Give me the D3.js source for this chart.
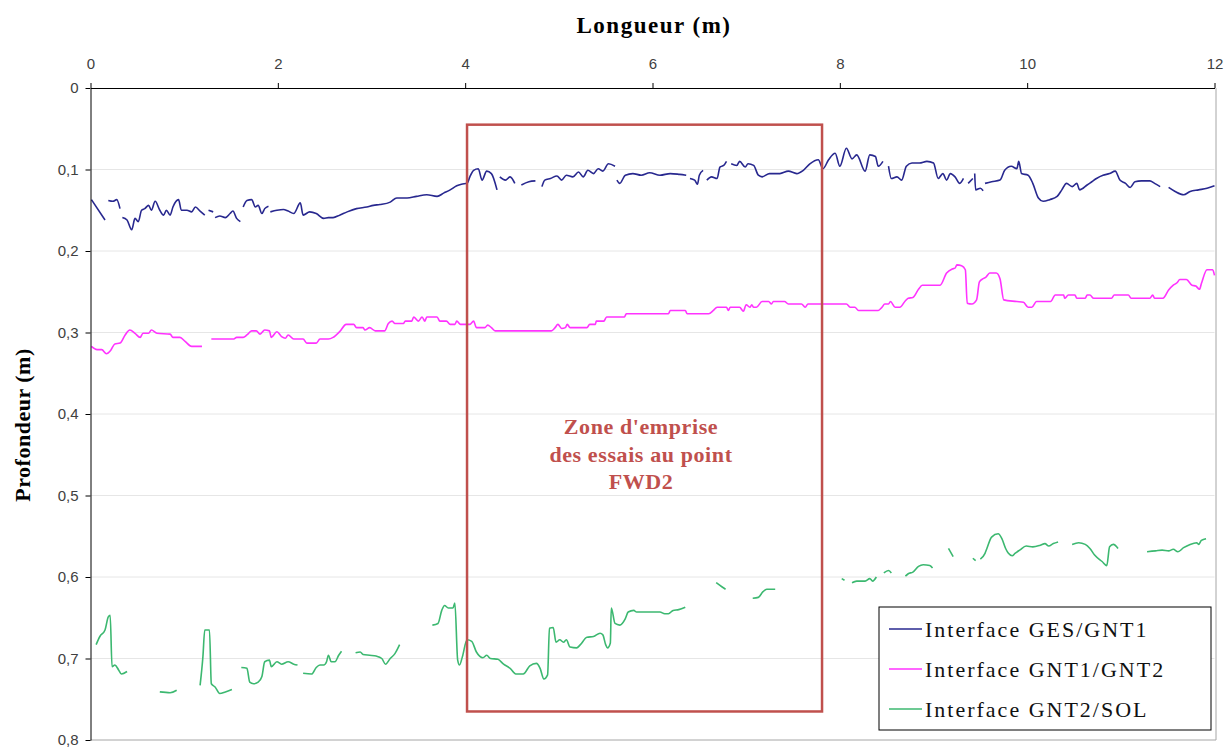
<!DOCTYPE html>
<html>
<head>
<meta charset="utf-8">
<script src="https://cdn.jsdelivr.net/npm/d3@7"></script>
<style>
  body { margin: 0; background: #fff; }
  svg { display: block; }
  .tick text { font-family: "Liberation Sans", Arial, sans-serif; font-size: 15px; fill: #404040; }
</style>
</head>
<body>
<svg id="chart" width="1229" height="749"></svg>
<script>
// depth profiles, [longueur (m), profondeur (m)], null = gap in the record
var gesGnt1 = [
  [0.01,0.137],[0.155,0.162], null,
  [0.19,0.138],[0.24,0.139],[0.28,0.137],[0.315,0.148], null,
  [0.34,0.159],[0.39,0.162],[0.44,0.174],[0.475,0.160],[0.51,0.164],[0.545,0.150],[0.58,0.148],[0.62,0.144],
  [0.65,0.150],[0.69,0.139],[0.74,0.150],[0.78,0.156],[0.81,0.150],[0.85,0.156],[0.88,0.146],[0.94,0.137],
  [0.97,0.150],[1.03,0.150],[1.08,0.152],[1.12,0.146],[1.17,0.151],[1.22,0.156], null,
  [1.26,0.150],[1.31,0.152], null,
  [1.33,0.159],[1.38,0.157],[1.44,0.159],[1.49,0.154],[1.52,0.151],[1.56,0.160],[1.60,0.164], null,
  [1.63,0.146],[1.67,0.138],[1.72,0.137],[1.76,0.146],[1.79,0.144],[1.83,0.154],[1.86,0.148],[1.90,0.145], null,
  [1.92,0.152],[1.99,0.150],[2.06,0.149],[2.11,0.151],[2.17,0.154],[2.24,0.141],[2.27,0.156],[2.34,0.152],
  [2.41,0.154],[2.49,0.160],[2.54,0.159],[2.59,0.159],[2.66,0.156],[2.74,0.152],[2.84,0.148],[2.95,0.146],
  [3.02,0.144],[3.09,0.143],[3.20,0.140],[3.27,0.135],[3.38,0.135],[3.48,0.133],[3.59,0.131],[3.70,0.133],
  [3.77,0.129],[3.84,0.125],[3.91,0.120],[3.96,0.118],[4.02,0.117],[4.05,0.109],[4.09,0.101],[4.14,0.099],
  [4.18,0.113],[4.23,0.102],[4.28,0.105],[4.34,0.125], null,
  [4.37,0.109],[4.43,0.113],[4.48,0.109],[4.53,0.117], null,
  [4.60,0.119],[4.68,0.115],[4.75,0.114], null,
  [4.82,0.121],[4.85,0.113],[4.91,0.111],[4.98,0.108],[5.03,0.113],[5.08,0.107],[5.15,0.109],[5.21,0.103],
  [5.26,0.109],[5.31,0.101],[5.37,0.105],[5.42,0.099],[5.47,0.102],[5.53,0.093],[5.60,0.096], null,
  [5.62,0.113],[5.65,0.117],[5.71,0.107],[5.79,0.105],[5.88,0.107],[5.97,0.104],[6.08,0.107],[6.19,0.105],
  [6.29,0.106],[6.36,0.107], null,
  [6.40,0.111],[6.45,0.113],[6.48,0.118],[6.50,0.107],[6.54,0.101], null,
  [6.58,0.113],[6.63,0.109],[6.69,0.111],[6.72,0.097],[6.76,0.095],[6.79,0.090], null,
  [6.84,0.093],[6.90,0.095],[6.93,0.090],[6.99,0.097],[7.02,0.093],[7.08,0.095],[7.13,0.107],[7.17,0.109],
  [7.25,0.105],[7.36,0.105],[7.45,0.102],[7.54,0.105],[7.61,0.101],[7.68,0.093],[7.77,0.088],[7.82,0.099],
  [7.88,0.088],[7.95,0.080],[8.00,0.096],[8.07,0.074],[8.13,0.087],[8.18,0.082],[8.27,0.102],[8.32,0.082],
  [8.38,0.084],[8.41,0.096],[8.46,0.090], null,
  [8.52,0.096],[8.55,0.111],[8.61,0.109],[8.66,0.113],[8.71,0.096],[8.77,0.092],[8.85,0.092],[8.93,0.090],
  [9.00,0.092],[9.05,0.111],[9.10,0.105],[9.14,0.113],[9.18,0.105],[9.23,0.109],[9.28,0.117],[9.32,0.111], null,
  [9.37,0.117],[9.42,0.111], null,
  [9.44,0.105],[9.45,0.125],[9.50,0.123],[9.53,0.126], null,
  [9.55,0.117],[9.62,0.115],[9.71,0.113],[9.76,0.101],[9.83,0.096],[9.89,0.099],[9.91,0.090],[9.94,0.105],
  [10.01,0.107],[10.06,0.117],[10.12,0.135],[10.17,0.139],[10.24,0.137],[10.32,0.133],[10.37,0.125],[10.42,0.117],
  [10.48,0.121],[10.53,0.117],[10.56,0.125],[10.64,0.119],[10.69,0.115],[10.74,0.111],[10.81,0.107],[10.88,0.105],
  [10.94,0.102],[10.99,0.113],[11.05,0.117],[11.10,0.122],[11.15,0.115],[11.22,0.114],[11.31,0.114],[11.36,0.117],
  [11.42,0.121], null,
  [11.51,0.122],[11.58,0.127],[11.67,0.131],[11.74,0.127],[11.83,0.125],[11.92,0.123],[12.0,0.120]
];

var gnt1Gnt2 = [
  [0.01,0.317],[0.07,0.321],[0.12,0.321],[0.17,0.326],[0.215,0.322],[0.26,0.314],[0.315,0.313],[0.37,0.303],
  [0.42,0.297],[0.475,0.301],[0.53,0.306],[0.56,0.301],[0.62,0.301],[0.65,0.297],[0.71,0.301],[0.85,0.302],
  [0.88,0.306],[0.955,0.306],[1.01,0.311],[1.08,0.317],[1.19,0.317], null,
  [1.29,0.308],[1.53,0.308],[1.56,0.306],[1.63,0.306],[1.67,0.303],[1.72,0.298],[1.77,0.298],[1.81,0.302],
  [1.86,0.297],[1.91,0.298],[1.93,0.306],[1.99,0.299],[2.04,0.305],[2.08,0.307],[2.11,0.303],[2.17,0.308],
  [2.27,0.308],[2.31,0.313],[2.41,0.313],[2.45,0.308],[2.54,0.308],[2.59,0.306],[2.66,0.299],[2.73,0.290],
  [2.81,0.290],[2.84,0.294],[2.91,0.294],[2.93,0.297],[2.98,0.294],[3.04,0.298],[3.14,0.298],[3.18,0.289],
  [3.22,0.286],[3.25,0.289],[3.34,0.289],[3.36,0.286],[3.43,0.286],[3.45,0.281],[3.50,0.286],[3.54,0.281],
  [3.57,0.286],[3.59,0.281],[3.70,0.281],[3.73,0.286],[3.80,0.286],[3.84,0.290],[3.89,0.290],[3.91,0.286],
  [3.95,0.290],[4.05,0.290],[4.09,0.286],[4.12,0.294],[4.21,0.294],[4.24,0.291],[4.28,0.294],[4.32,0.298],
  [4.92,0.298],[4.96,0.294],[4.99,0.290],[5.03,0.295],[5.07,0.294],[5.09,0.290],[5.12,0.294],[5.30,0.294],
  [5.33,0.290],[5.39,0.290],[5.40,0.286],[5.48,0.286],[5.51,0.281],[5.70,0.281],[5.72,0.277],[6.17,0.277],
  [6.19,0.273],[6.35,0.273],[6.37,0.277],[6.60,0.277],[6.65,0.273],[6.69,0.269],[6.79,0.269],[6.81,0.273],
  [6.83,0.269],[6.93,0.269],[6.97,0.274],[7.00,0.266],[7.04,0.269],[7.06,0.266],[7.08,0.269],[7.11,0.269],
  [7.17,0.262],[7.24,0.262],[7.27,0.265],[7.29,0.262],[7.41,0.262],[7.45,0.265],[7.59,0.265],[7.63,0.269],
  [7.66,0.265],[8.07,0.265],[8.11,0.269],[8.16,0.269],[8.20,0.273],[8.41,0.273],[8.45,0.269],[8.48,0.265],
  [8.52,0.265],[8.54,0.262],[8.59,0.269],[8.64,0.269],[8.70,0.261],[8.73,0.258],[8.78,0.257],[8.84,0.247],
  [8.88,0.242],[9.07,0.242],[9.14,0.227],[9.20,0.222],[9.23,0.221],[9.25,0.217],[9.30,0.218],[9.34,0.223],
  [9.36,0.264],[9.41,0.265],[9.46,0.260],[9.49,0.238],[9.53,0.234],[9.56,0.232],[9.60,0.227],[9.67,0.227],
  [9.71,0.234],[9.75,0.260],[9.89,0.262],[9.96,0.263],[10.01,0.269],[10.05,0.269],[10.10,0.262],[10.25,0.262],
  [10.30,0.254],[10.39,0.254],[10.40,0.258],[10.44,0.254],[10.51,0.254],[10.53,0.258],[10.62,0.258],[10.64,0.254],
  [10.67,0.254],[10.71,0.258],[10.90,0.258],[10.93,0.254],[11.08,0.254],[11.11,0.258],[11.31,0.258],[11.34,0.254],
  [11.36,0.258],[11.45,0.258],[11.51,0.248],[11.56,0.242],[11.60,0.239],[11.63,0.235],[11.70,0.235],[11.76,0.242],
  [11.80,0.243],[11.84,0.247],[11.86,0.240],[11.92,0.223],[11.98,0.223],[12.0,0.230]
];

var gnt2Sol = [
  [0.06,0.683],[0.10,0.673],[0.155,0.665],[0.19,0.649],[0.21,0.647],[0.23,0.710],[0.26,0.708],[0.30,0.714],
  [0.33,0.719],[0.39,0.716], null,
  [0.74,0.741],[0.85,0.742],[0.92,0.739], null,
  [1.17,0.733],[1.20,0.698],[1.22,0.665],[1.27,0.665],[1.29,0.731],[1.33,0.735],[1.38,0.743],[1.44,0.741],
  [1.51,0.738], null,
  [1.61,0.711],[1.67,0.712],[1.70,0.729],[1.74,0.731],[1.79,0.729],[1.83,0.722],[1.86,0.704],[1.91,0.702],
  [1.93,0.710],[1.99,0.704],[2.04,0.707],[2.11,0.704],[2.17,0.707],[2.21,0.708], null,
  [2.27,0.718],[2.36,0.719],[2.41,0.711],[2.45,0.708],[2.49,0.708],[2.52,0.704],[2.54,0.696],[2.57,0.704],
  [2.61,0.704],[2.65,0.696],[2.68,0.691], null,
  [2.83,0.693],[2.88,0.692],[2.91,0.695],[2.98,0.696],[3.05,0.697],[3.11,0.700],[3.15,0.707],[3.20,0.700],
  [3.25,0.694],[3.30,0.683], null,
  [3.65,0.659],[3.71,0.657],[3.75,0.641],[3.78,0.635],[3.82,0.638],[3.87,0.638],[3.89,0.632],[3.92,0.702],
  [3.94,0.708],[3.97,0.698],[4.02,0.677],[4.07,0.679],[4.12,0.692],[4.19,0.699],[4.23,0.696],[4.27,0.700],
  [4.35,0.701],[4.41,0.707],[4.48,0.712],[4.54,0.719],[4.62,0.719],[4.69,0.709],[4.76,0.706],[4.80,0.712],
  [4.84,0.725],[4.88,0.720],[4.90,0.663],[4.94,0.662],[4.97,0.680],[5.01,0.677],[5.05,0.680],[5.08,0.677],
  [5.12,0.686],[5.19,0.687],[5.23,0.683],[5.30,0.674],[5.37,0.673],[5.44,0.669],[5.47,0.671],[5.50,0.683],
  [5.52,0.687],[5.55,0.681],[5.56,0.638],[5.60,0.657],[5.65,0.659],[5.71,0.651],[5.74,0.643],[5.80,0.641],
  [5.83,0.643],[6.08,0.643],[6.13,0.645],[6.17,0.645],[6.22,0.641],[6.28,0.640],[6.35,0.637], null,
  [6.68,0.607],[6.74,0.612],[6.78,0.615], null,
  [7.07,0.626],[7.13,0.625],[7.18,0.618],[7.22,0.615],[7.31,0.615], null,
  [8.02,0.602],[8.05,0.604], null,
  [8.13,0.607],[8.18,0.605],[8.27,0.605],[8.32,0.602],[8.35,0.605],[8.39,0.600], null,
  [8.47,0.595],[8.52,0.592],[8.55,0.595], null,
  [8.70,0.599],[8.73,0.596],[8.78,0.594],[8.84,0.587],[8.89,0.585],[8.96,0.586],[8.99,0.589], null,
  [9.16,0.565],[9.21,0.575], null,
  [9.42,0.577],[9.45,0.580], null,
  [9.50,0.578],[9.55,0.571],[9.57,0.565],[9.62,0.551],[9.69,0.547],[9.73,0.553],[9.77,0.565],[9.80,0.571],
  [9.84,0.574],[9.87,0.571],[9.92,0.567],[9.99,0.562],[10.06,0.563],[10.14,0.561],[10.19,0.559],[10.23,0.562],
  [10.28,0.559],[10.33,0.557], null,
  [10.48,0.560],[10.55,0.558],[10.62,0.560],[10.67,0.565],[10.72,0.573],[10.80,0.581],[10.85,0.586],[10.88,0.563],
  [10.92,0.560],[10.97,0.565], null,
  [11.28,0.569],[11.37,0.568],[11.44,0.567],[11.51,0.568],[11.56,0.566],[11.61,0.569],[11.67,0.564],[11.74,0.560],
  [11.81,0.558],[11.83,0.560],[11.86,0.555],[11.91,0.553]
];

var seriesNames = ["Interface GES/GNT1", "Interface GNT1/GNT2", "Interface GNT2/SOL"];
var seriesColors = ["#28288F", "#FF33FF", "#3CB870"];
var seriesData = [gesGnt1, gnt1Gnt2, gnt2Sol];

var xTicks = [0, 2, 4, 6, 8, 10, 12];
var yTicks = [0, 0.1, 0.2, 0.3, 0.4, 0.5, 0.6, 0.7, 0.8];

// zone d'emprise des essais (FWD2)
var zoneX = [4.02, 7.81];
var zoneY = [0.045, 0.765];
var zoneLabel = ["Zone d'emprise", "des essais au point", "FWD2"];

var svg = d3.select("#chart");

var x = d3.scaleLinear().domain([0, 12]).range([90.5, 1214.5]);
var y = d3.scaleLinear().domain([0, 0.8]).range([88, 740]);

var fmt = function (d) { return d === 0 ? "0" : String(d3.format(".1f")(d)).replace(".", ","); };

// grid lines
svg.append("g")
  .selectAll("line")
  .data(yTicks.filter(function (d) { return d > 0 && d < 0.8; }))
  .enter().append("line")
  .attr("x1", x(0)).attr("x2", x(12))
  .attr("y1", function (d) { return y(d); })
  .attr("y2", function (d) { return y(d); })
  .style("stroke", "#E6E6E6").style("stroke-width", 1);

// right + bottom frame
svg.append("path")
  .attr("d", "M" + x(0) + "," + y(0.8) + "H" + (x(12) + 1.5) + "V" + y(0))
  .style("fill", "none").style("stroke", "#A6A6A6").style("stroke-width", 1);

var line = d3.line()
  .defined(function (d) { return d !== null; })
  .x(function (d) { return x(d[0]); })
  .y(function (d) { return y(d[1]); })
  .curve(d3.curveMonotoneX);

seriesData.forEach(function (data, i) {
  svg.append("path")
    .datum(data)
    .attr("d", line)
    .style("fill", "none")
    .style("stroke", seriesColors[i])
    .style("stroke-width", 1.6)
    .style("stroke-linejoin", "round");
});

// zone rectangle
svg.append("rect")
  .attr("x", x(zoneX[0]))
  .attr("y", y(zoneY[0]))
  .attr("width", x(zoneX[1]) - x(zoneX[0]))
  .attr("height", y(zoneY[1]) - y(zoneY[0]))
  .style("fill", "none")
  .style("stroke", "#C0504D")
  .style("stroke-width", 2.5);

svg.append("g")
  .selectAll("text")
  .data(zoneLabel)
  .enter().append("text")
  .attr("x", 641)
  .attr("y", function (d, i) { return 434 + i * 27.5; })
  .attr("text-anchor", "middle")
  .style("font-family", "'Liberation Serif', 'DejaVu Serif', serif")
  .style("font-weight", "bold")
  .style("font-size", "22px")
  .style("letter-spacing", "0.6px")
  .style("fill", "#C0504D")
  .text(function (d) { return d; });

// axes
var xAxis = d3.axisTop(x).tickValues(xTicks).tickSize(5).tickSizeOuter(0).tickPadding(14);
var yAxis = d3.axisLeft(y).tickValues(yTicks).tickSize(5).tickSizeOuter(0).tickPadding(7).tickFormat(fmt);

svg.append("g")
  .attr("transform", "translate(0," + y(0) + ")")
  .call(xAxis)
  .call(function (g) { g.selectAll("line, path").style("stroke", "#000"); });

svg.append("g")
  .attr("transform", "translate(" + x(0) + ",0)")
  .call(yAxis)
  .call(function (g) { g.selectAll("line, path").style("stroke", "#000"); });

// axis titles
svg.append("text")
  .attr("x", 654).attr("y", 33)
  .attr("text-anchor", "middle")
  .style("font-family", "'Liberation Serif', 'DejaVu Serif', serif")
  .style("font-weight", "bold")
  .style("font-size", "23px")
  .style("letter-spacing", "1.5px")
  .text("Longueur (m)");

svg.append("text")
  .attr("transform", "translate(30,425) rotate(-90)")
  .attr("text-anchor", "middle")
  .style("font-family", "'Liberation Serif', 'DejaVu Serif', serif")
  .style("font-weight", "bold")
  .style("font-size", "22px")
  .style("letter-spacing", "0.5px")
  .text("Profondeur (m)");

// legend
var legend = svg.append("g").attr("transform", "translate(879,607)");
legend.append("rect")
  .attr("width", 332).attr("height", 123)
  .style("fill", "#fff").style("stroke", "#000").style("stroke-width", 1);

seriesNames.forEach(function (name, i) {
  var row = legend.append("g").attr("transform", "translate(0," + (22 + i * 40) + ")");
  row.append("line")
    .attr("x1", 10).attr("x2", 43)
    .attr("y1", 0).attr("y2", 0)
    .style("stroke", seriesColors[i]).style("stroke-width", 1.6);
  row.append("text")
    .attr("x", 46).attr("y", 8)
    .style("font-family", "'Liberation Serif', 'DejaVu Serif', serif")
    .style("font-size", "22px")
    .style("letter-spacing", "2px")
    .style("fill", "#111")
    .text(name);
});
</script>
</body>
</html>
